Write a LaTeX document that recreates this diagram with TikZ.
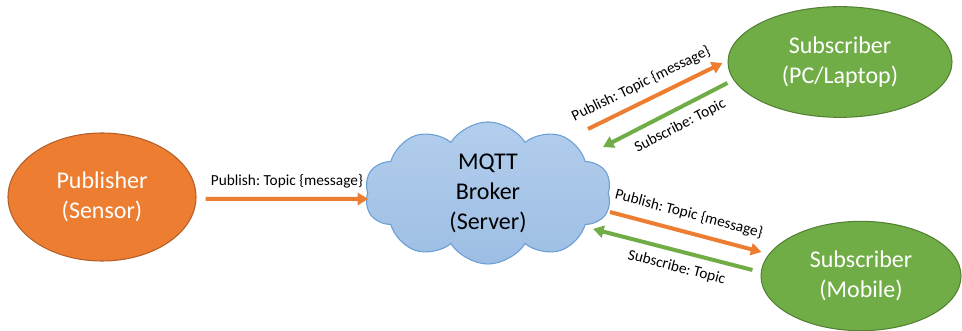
\documentclass[tikz,border=0pt]{standalone}
\usepackage{fontspec}
\setmainfont{Carlito}
\usepackage{xcolor}
\usetikzlibrary{shapes.geometric,shapes.symbols,arrows.meta}
\definecolor{mqorange}{HTML}{ED7D31}
\definecolor{mqorangedark}{HTML}{B3602A}
\definecolor{mqgreen}{HTML}{70AD47}
\definecolor{mqgreendark}{HTML}{548235}
\definecolor{cloudtop}{HTML}{B3CEED}
\definecolor{cloudbottom}{HTML}{9DBEE4}
\definecolor{cloudedge}{HTML}{6A9FD6}
\frenchspacing
\begin{document}
\begin{tikzpicture}[
  x=0.75pt, y=0.75pt,
  client/.style={ellipse, draw, line width=0.8pt, text=white, align=center, font=\fontsize{18}{22.5}\selectfont, inner sep=0pt},
  pubnode/.style={client, fill=mqorange, draw=mqorangedark},
  subnode/.style={client, fill=mqgreen, draw=mqgreendark},
  broker/.style={cloud, cloud puffs=10, cloud puff arc=115, aspect=1.9, draw=cloudedge, line width=0.8pt, top color=cloudtop, bottom color=cloudbottom, align=center, font=\fontsize{18}{22.5}\selectfont, inner sep=0pt},
  pubarr/.style={-{Triangle[width=9pt,length=8pt]}, line width=3pt, draw=mqorange},
  subarr/.style={pubarr, draw=mqgreen},
  lbl/.style={font=\fontsize{11.5}{13}\selectfont, sloped, inner sep=2pt}
]
\useasboundingbox (0,0) rectangle (962,331);
% clients and broker
\node[pubnode, minimum width=141pt, minimum height=96pt] (pub) at (102,134) {Publisher\\(Sensor)};
\node[broker, minimum width=185pt, minimum height=100pt] (brk) at (488,138) {MQTT\\Broker\\(Server)};
\node[subnode, minimum width=168pt, minimum height=83pt] (pc) at (840,269) {Subscriber\\(PC/Laptop)};
\node[subnode, minimum width=150pt, minimum height=82pt] (mob) at (861,55) {Subscriber\\(Mobile)};
% publisher -> broker
\draw[pubarr] ([shift={(9,-2)}]pub.east) -- ([shift={(1,-6)}]brk.west)
  node[lbl, midway, above=5pt] {Publish: Topic \{message\}};
% broker <-> PC
\draw[pubarr] ([shift={(100,64)}]brk.center) -- ([shift={(-5,-1)}]pc.west)
  node[lbl, pos=0.45, above=4pt] {Publish: Topic \{message\}};
\draw[subarr] ([shift={(0,-21)}]pc.west) -- ([shift={(115,46)}]brk.center)
  node[lbl, pos=0.44, below=4pt] {Subscribe: Topic};
% broker <-> mobile
\draw[pubarr] ([shift={(122,-19)}]brk.center) -- ([shift={(1,24)}]mob.west)
  node[lbl, pos=0.49, above=5pt] {Publish: Topic \{message\}};
\draw[subarr] ([shift={(-8,6)}]mob.west) -- ([shift={(105,-36)}]brk.center)
  node[lbl, pos=0.45, below=4pt] {Subscribe: Topic};
\end{tikzpicture}
\end{document}
